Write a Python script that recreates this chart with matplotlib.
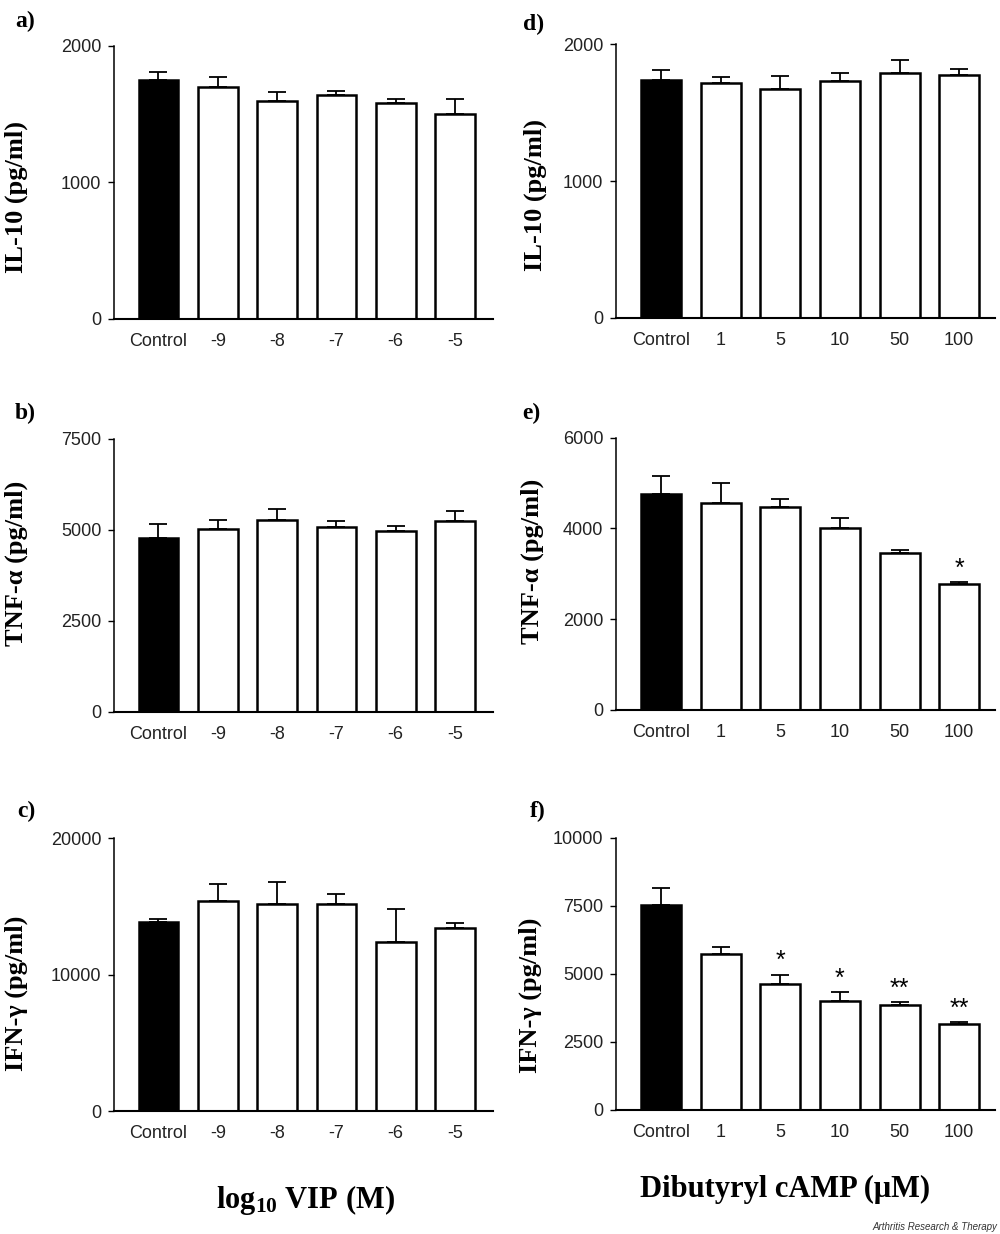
import matplotlib
matplotlib.use("Agg")
import matplotlib.pyplot as plt
import numpy as np

plt.rcParams['mathtext.fontset'] = 'custom'
plt.rcParams['mathtext.rm'] = 'Liberation Serif:bold'
plt.rcParams['mathtext.it'] = 'Liberation Serif:bold'
plt.rcParams['mathtext.bf'] = 'Liberation Serif:bold'

# ---------------- data ----------------
vip_labels = ["Control", "-9", "-8", "-7", "-6", "-5"]
camp_labels = ["Control", "1", "5", "10", "50", "100"]

il10_vip = [1749, 1696, 1594, 1642, 1579, 1498]
il10_vip_sem = [61, 73, 66, 25, 34, 115]
tnf_vip = [4787, 5025, 5282, 5080, 4961, 5236]
tnf_vip_sem = [376, 248, 284, 165, 138, 284]
ifn_vip = [13863, 15403, 15159, 15183, 12372, 13448]
ifn_vip_sem = [196, 1223, 1638, 734, 2420, 317]

il10_camp = [1739, 1717, 1676, 1730, 1791, 1778]
il10_camp_sem = [71, 42, 93, 63, 93, 44]
tnf_camp = [4752, 4561, 4473, 4010, 3466, 2783]
tnf_camp_sem = [403, 448, 183, 213, 66, 30]
ifn_camp = [7515, 5741, 4639, 4015, 3843, 3158]
ifn_camp_sem = [625, 244, 330, 318, 111, 61]

tnf_camp_sig = ["", "", "", "", "", "*"]
ifn_camp_sig = ["", "", "*", "*", "**", "**"]

il10_ticks = [0, 1000, 2000]
tnf_vip_ticks = [0, 2500, 5000, 7500]
tnf_camp_ticks = [0, 2000, 4000, 6000]
ifn_vip_ticks = [0, 10000, 20000]
ifn_camp_ticks = [0, 2500, 5000, 7500, 10000]

# ---------------- figure ----------------
W, H = 1000, 1234
fig = plt.figure(figsize=(W / 100, H / 100), dpi=100)


def px_axes(left, top, right, bottom):
    return fig.add_axes([left / W, 1 - bottom / H, (right - left) / W, (bottom - top) / H])


tick_font = dict(family="Liberation Sans", size=13)
lab_font = dict(family="Liberation Serif", weight="bold", size=19)


def panel(ax, labels, vals, sems, ticks, ylabel, xlim, label_xy, sig=None):
    x = np.arange(len(vals))
    colors = ["black"] + ["white"] * (len(vals) - 1)
    ax.bar(x, vals, width=0.67, color=colors, edgecolor="black", linewidth=1.8, zorder=2)
    ax.errorbar(x, vals, yerr=[np.zeros(len(vals)), sems], fmt="none", ecolor="black",
                elinewidth=1.3, capsize=6.5, capthick=1.3, zorder=3)
    ax.set_xlim(*xlim)
    ax.set_ylim(0, ticks[-1])
    ax.set_yticks(ticks)
    ax.set_yticklabels([str(t) for t in ticks], fontdict=tick_font, color="#222222")
    ax.set_xticks(x)
    ax.set_xticklabels(labels, fontdict=tick_font, color="#222222")
    ax.tick_params(axis="x", length=0, pad=10)
    ax.tick_params(axis="y", direction="out", length=4, width=1.0, pad=5)
    for s in ["top", "right"]:
        ax.spines[s].set_visible(False)
    ax.spines["left"].set_linewidth(1.1)
    ax.spines["bottom"].set_linewidth(1.5)
    ax.set_ylabel(ylabel, **lab_font)
    ax.yaxis.set_label_coords(*label_xy)
    ax.patch.set_alpha(0)
    if sig is not None:
        for i, s in enumerate(sig):
            if s:
                ax.annotate(s, xy=(i, vals[i] + sems[i]), xytext=(0, 1),
                            textcoords="offset points", ha="center", va="bottom",
                            family="Liberation Sans", size=18)


xl_left = (-0.75, 5.64)
xl_right = (-0.76, 5.6)

ax_a = px_axes(114, 45.7, 493, 319)
panel(ax_a, vip_labels, il10_vip, il10_vip_sem, il10_ticks, "IL-10 (pg/ml)", xl_left, (-0.228, 0.445))
ax_b = px_axes(114, 439, 493, 711.7)
panel(ax_b, vip_labels, tnf_vip, tnf_vip_sem, tnf_vip_ticks, "TNF-α (pg/ml)", xl_left, (-0.228, 0.545))
ax_c = px_axes(114, 838.3, 493, 1111)
panel(ax_c, vip_labels, ifn_vip, ifn_vip_sem, ifn_vip_ticks, "IFN-γ (pg/ml)", xl_left, (-0.228, 0.43))

ax_d = px_axes(615.7, 44.3, 995, 317.7)
panel(ax_d, camp_labels, il10_camp, il10_camp_sem, il10_ticks, "IL-10 (pg/ml)", xl_right, (-0.181, 0.449))
ax_e = px_axes(615.7, 437.7, 995, 710)
panel(ax_e, camp_labels, tnf_camp, tnf_camp_sem, tnf_camp_ticks, "TNF-α (pg/ml)", xl_right, (-0.19, 0.545), tnf_camp_sig)
ax_f = px_axes(615.7, 837.7, 995, 1110)
panel(ax_f, camp_labels, ifn_camp, ifn_camp_sem, ifn_camp_ticks, "IFN-γ (pg/ml)", xl_right, (-0.195, 0.42), ifn_camp_sig)

# panel letters
letter_font = dict(family="Liberation Serif", weight="bold", size=17, va="center", ha="left")
for lab, xp, yp in [("a)", 15, 21), ("b)", 15, 413), ("c)", 17, 811),
                    ("d)", 523, 24), ("e)", 522, 413), ("f)", 530, 811)]:
    fig.text(xp / W, 1 - yp / H, lab, **letter_font)

# bottom titles
fig.text(305 / W, 1 - 1208 / H, r"log$_{10}$ VIP (M)", family="Liberation Serif", weight="bold",
         size=22, ha="center", va="baseline")
fig.text(785.5 / W, 1 - 1197 / H, "Dibutyryl cAMP (μM)", family="Liberation Serif", weight="bold",
         size=22, ha="center", va="baseline")
fig.text(997 / W, 1 - 1230 / H, "Arthritis Research & Therapy", family="Liberation Sans",
         style="italic", size=7, ha="right", va="baseline", color="#333333")

fig.savefig("out.png", dpi=100, facecolor="white")
